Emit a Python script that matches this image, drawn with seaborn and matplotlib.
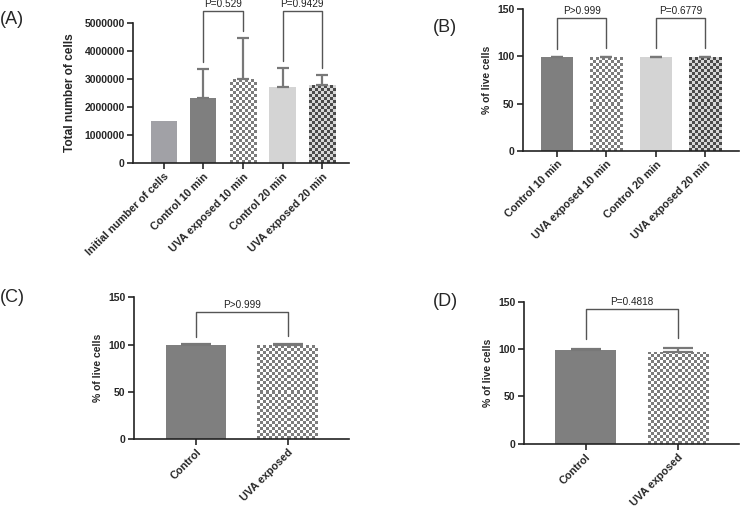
import matplotlib
matplotlib.use("Agg")
import matplotlib.pyplot as plt
from matplotlib.colors import ListedColormap
import matplotlib.ticker as mticker
import seaborn as sns
import numpy as np
import pandas as pd

# Panel A - total number of cells
a_groups = ["Initial number of cells", "Control 10 min", "UVA exposed 10 min",
            "Control 20 min", "UVA exposed 20 min"]
a_mean = [1500000, 2310000, 3000000, 2730000, 2770000]
a_sd = [0, 1030000, 1450000, 650000, 360000]
a_pairs = [(1, 2, "P=0.529"), (3, 4, "P=0.9429")]

# Panel B - % live cells, 10 / 20 min
b_groups = ["Control 10 min", "UVA exposed 10 min", "Control 20 min", "UVA exposed 20 min"]
b_mean = [99.0, 99.2, 99.0, 99.3]
b_sd = [0.4, 0.3, 0.8, 0.3]
b_pairs = [(0, 1, "P>0.999"), (2, 3, "P=0.6779")]

# Panels C and D
cd_groups = ["Control", "UVA exposed"]
c_mean = [99.2, 99.0]
c_sd = [1.2, 1.8]
c_pairs = [(0, 1, "P>0.999")]
d_mean = [99.0, 97.2]
d_sd = [1.2, 4.0]
d_pairs = [(0, 1, "P=0.4818")]

sns.set_style("ticks")
plt.rcParams["font.family"] = ["Liberation Sans", "DejaVu Sans"]

styles = {
    "Initial number of cells": dict(color="#a1a1a6"),
    "Control 10 min": dict(color="#7f7f7f"),
    "Control 20 min": dict(color="#d4d4d4"),
    "Control": dict(color="#7f7f7f"),
    "UVA exposed 10 min": dict(color="#bdbdbd", checker=("#7c7c7c", "#ffffff")),
    "UVA exposed": dict(color="#bdbdbd", checker=("#7c7c7c", "#ffffff")),
    "UVA exposed 20 min": dict(color="#8a8a8a", checker=("#4a4a4a", "#d6d6d6")),
}

fig = plt.figure(figsize=(7.4, 5.09), dpi=100)


def checker_fill(ax, patch, colors, cell=3.0):
    # checkerboard texture clipped to the bar
    x0, y0 = patch.get_x(), patch.get_y()
    w, h = patch.get_width(), patch.get_height()
    p0 = ax.transData.transform((x0, y0))
    p1 = ax.transData.transform((x0 + w, y0 + h))
    ncol = max(2, int(round(abs(p1[0] - p0[0]) / cell)))
    nrow = max(2, int(round(abs(p1[1] - p0[1]) / cell)))
    grid = np.indices((nrow, ncol)).sum(axis=0) % 2
    im = ax.imshow(grid, cmap=ListedColormap(list(colors)), aspect="auto",
                   interpolation="nearest", extent=(x0, x0 + w, y0, y0 + h),
                   origin="lower", zorder=patch.get_zorder() + 0.1)
    im.set_clip_path(patch)


def panel(rect, groups, mean, sd, pairs, ylim, yticks, ylabel, xlim, ylabsize,
          capsize, lift, top, labelpad):
    ax = fig.add_axes(rect)
    df = pd.DataFrame({"group": groups, "value": mean})
    pal = {g: styles[g]["color"] for g in groups}
    sns.barplot(data=df, x="group", y="value", hue="group", palette=pal,
                width=0.66, saturation=1, legend=False, ax=ax)
    ax.set_xlim(*xlim)
    ax.set_ylim(*ylim)
    for patch, g in zip(list(ax.patches), groups):
        patch.set_linewidth(0)
        if "checker" in styles[g]:
            checker_fill(ax, patch, styles[g]["checker"])
    ax.set_xlim(*xlim)
    ax.set_ylim(*ylim)
    x = np.arange(len(groups))
    m = np.array(mean, dtype=float)
    s = np.array(sd, dtype=float)
    has = s > 0
    ax.errorbar(x[has], m[has], yerr=[np.zeros(has.sum()), s[has]], fmt="none",
                ecolor="#787878", elinewidth=1.6, capsize=capsize, capthick=1.6,
                zorder=5)
    tops = m + s
    for i, j, txt in pairs:
        yl = tops[i] + lift
        yr = tops[j] + lift
        ax.plot([i, i, j, j], [yl, top, top, yr], color="#555555", lw=1.0,
                clip_on=False)
        ax.annotate(txt, ((i + j) / 2, top), xytext=(0, 1.5),
                    textcoords="offset points", ha="center", va="bottom",
                    fontsize=7.2, color="#222222", annotation_clip=False)
    ax.set_yticks(yticks)
    ax.set_xlabel("")
    ax.set_ylabel(ylabel, fontsize=ylabsize, fontweight="bold",
                  labelpad=labelpad)
    ax.tick_params(axis="y", labelsize=7.5, length=4, width=1.2, pad=2)
    ax.tick_params(axis="x", labelsize=7.8, length=4, width=1.2, pad=2)
    for lab in ax.get_yticklabels():
        lab.set_fontweight("bold")
    ax.set_xticks(x)
    ax.set_xticklabels(groups, rotation=45, ha="right", rotation_mode="anchor",
                       fontweight="bold")
    sns.despine(ax=ax)
    for sp in ["left", "bottom"]:
        ax.spines[sp].set_linewidth(1.2)
        ax.spines[sp].set_color("#222222")
    ax.set_facecolor("none")
    return ax


axA = panel([0.1797, 0.6798, 0.2919, 0.2750], a_groups, a_mean, a_sd, a_pairs,
            (0, 5000000), [0, 1000000, 2000000, 3000000, 4000000, 5000000],
            "Total number of cells", (-0.78, 4.68), 8.6, 4.5, 250000,
            5440000, 6)
axA.yaxis.set_major_formatter(mticker.FuncFormatter(lambda v, p: f"{int(v)}"))

axB = panel([0.7064, 0.7039, 0.2923, 0.2778], b_groups, b_mean, b_sd, b_pairs,
            (0, 150), [0, 50, 100, 150], "% of live cells", (-0.70, 3.69), 7.5,
            4.5, 9, 141, 4)

axC = panel([0.1811, 0.1375, 0.2905, 0.2784], cd_groups, c_mean, c_sd, c_pairs,
            (0, 150), [0, 50, 100, 150], "% of live cells", (-0.676, 1.67), 7.5,
            11, 8, 134, 4)

axD = panel([0.7081, 0.1283, 0.2905, 0.2790], cd_groups, d_mean, d_sd, d_pairs,
            (0, 150), [0, 50, 100, 150], "% of live cells", (-0.668, 1.66), 7.5,
            11, 10, 142, 4)

fig.text(0.0, 1 - 20 / 509, "(A)", fontsize=13, va="center", ha="left")
fig.text(433 / 740, 1 - 27 / 509, "(B)", fontsize=13, va="center", ha="left")
fig.text(0.0, 1 - 298 / 509, "(C)", fontsize=13, va="center", ha="left")
fig.text(433 / 740, 1 - 302 / 509, "(D)", fontsize=13, va="center", ha="left")

fig.savefig("out.png", dpi=100)
